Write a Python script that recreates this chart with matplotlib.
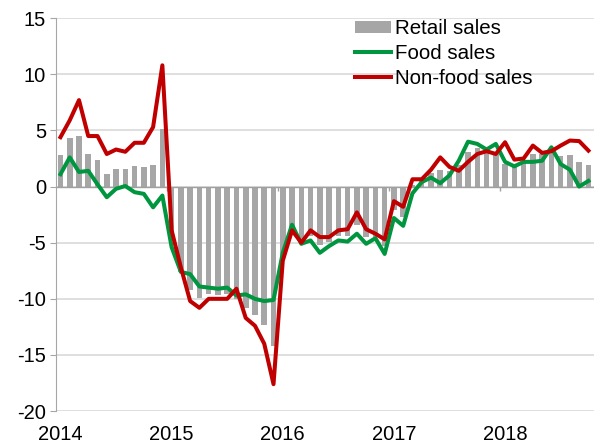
import numpy as np
import matplotlib
matplotlib.use("Agg")
import matplotlib.pyplot as plt

plt.rcParams['font.family'] = ['Liberation Sans', 'DejaVu Sans']
plt.rcParams['axes.unicode_minus'] = False

# monthly data, Jan 2014 .. Oct 2018 (% y/y)
years = ['2014', '2015', '2016', '2017', '2018']

retail_sales = [
    2.8, 4.3, 4.5, 2.9, 2.4, 1.1, 1.6, 1.6, 1.8, 1.7, 1.9, 5.1,
    -4.8, -7.6, -9.2, -9.9, -9.6, -9.7, -9.6, -10.0, -10.8, -11.4, -12.3, -14.2,
    -6.4, -3.7, -5.1, -4.4, -5.2, -4.9, -4.4, -4.4, -3.4, -4.5, -4.5, -5.3,
    -2.1, -2.7, 0.1, 0.6, 1.2, 1.5, 1.4, 1.9, 3.1, 3.4, 3.2, 2.9,
    2.0, 1.8, 2.2, 2.9, 2.9, 3.4, 2.7, 2.8, 2.2, 1.9,
]
food_sales = [
    1.1, 2.6, 1.3, 1.4, 0.2, -0.95, -0.2, 0.05, -0.5, -0.65, -1.85, -0.8,
    -5.4, -7.6, -7.8, -8.9, -9.0, -9.1, -9.0, -9.7, -9.6, -10.0, -10.2, -10.1,
    -5.9, -3.4, -5.1, -4.8, -5.9, -5.3, -4.8, -4.9, -4.2, -5.1, -4.6, -6.0,
    -2.8, -3.5, -0.6, 0.4, 0.8, 0.3, 1.0, 2.3, 4.0, 3.8, 3.3, 3.8,
    2.2, 1.8, 2.2, 2.2, 2.3, 3.5, 2.0, 1.5, 0.0, 0.5,
]
nonfood_sales = [
    4.4, 5.9, 7.7, 4.5, 4.5, 2.9, 3.3, 3.1, 3.9, 3.9, 5.3, 10.8,
    -3.9, -7.2, -10.2, -10.8, -10.0, -10.0, -10.0, -9.1, -11.7, -12.4, -14.0, -17.6,
    -6.6, -3.9, -5.0, -3.9, -4.5, -4.5, -3.9, -3.8, -2.3, -3.8, -4.2, -4.7,
    -1.3, -1.8, 0.65, 0.65, 1.5, 2.6, 1.75, 1.4, 2.2, 2.9, 3.15, 2.9,
    3.95, 2.4, 2.5, 3.65, 3.0, 3.15, 3.65, 4.1, 4.05, 3.2,
]

x = np.arange(len(retail_sales))

fig = plt.figure(figsize=(5.94, 4.43), dpi=100)
ax = fig.add_axes([0.094, 0.072, 0.906, 0.887])

ax.set_axisbelow(True)
ax.yaxis.grid(True, color='#d9d9d9', lw=1.2)

bars = ax.bar(x, retail_sales, width=0.6, color='#a6a6a6', label='Retail sales', zorder=2)
ax.axhline(0, color='#a0a0a0', lw=1, zorder=2.5)
food_line, = ax.plot(x, food_sales, color='#00953f', lw=2.9, label='Food sales', zorder=3,
                     solid_joinstyle='round')
nonfood_line, = ax.plot(x, nonfood_sales, color='#c00000', lw=2.9, label='Non-food sales',
                        zorder=4, solid_joinstyle='round')

# year boundary ticks on the zero line
ax.vlines([11.5, 23.5, 35.5, 47.5], -0.4, 0, color='#a0a0a0', lw=1, zorder=2.5)

ax.set_xlim(-0.5, 57.6)
ax.set_ylim(-20, 15)
ax.set_yticks(np.arange(-20, 16, 5))
ax.set_xticks(np.arange(len(years)) * 12)
ax.set_xticklabels(years)

for s in ['top', 'right', 'bottom']:
    ax.spines[s].set_visible(False)
ax.spines['left'].set_color('#a6a6a6')
ax.tick_params(axis='y', length=4, color='#a6a6a6', labelsize=14.5, pad=3)
ax.tick_params(axis='x', length=0, labelsize=14.5, pad=10)

ax.legend([bars, food_line, nonfood_line],
          ['Retail sales', 'Food sales', 'Non-food sales'],
          loc='upper left', bbox_to_anchor=(355 / 594, 1 - 19 / 443),
          bbox_transform=fig.transFigure, frameon=False, fontsize=14.8,
          handlelength=1.75, handleheight=0.5, handletextpad=0.2, labelspacing=0.28,
          borderpad=0, borderaxespad=0)

fig.savefig('out.png', dpi=100)
